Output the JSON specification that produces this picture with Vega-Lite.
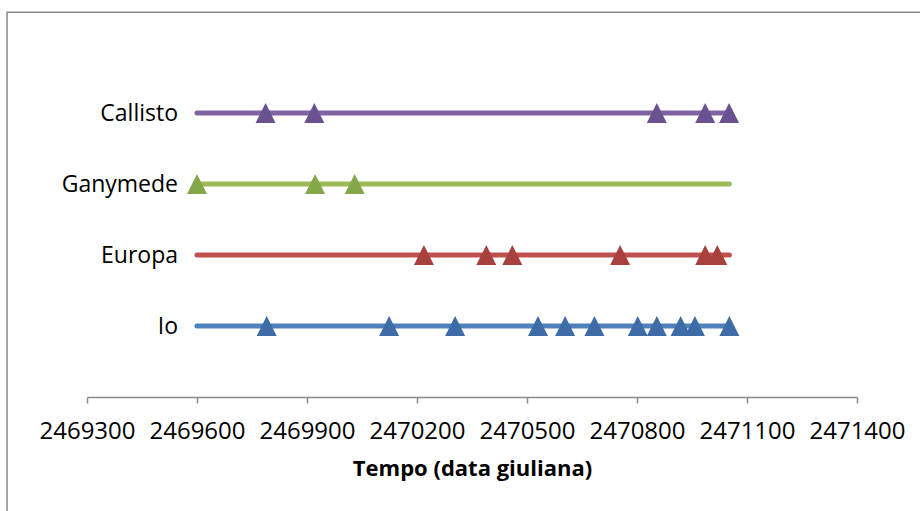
{
  "$schema": "https://vega.github.io/schema/vega-lite/v6.json",
  "width": 770,
  "height": 355,
  "autosize": "none",
  "padding": {"left": 87, "top": 42, "right": 63, "bottom": 114},
  "background": "white",
  "config": {
    "view": {"stroke": null},
    "font": "Open Sans",
    "axisX": {
      "grid": false, "tickSize": 6, "tickWidth": 1.5, "domainWidth": 1.5,
      "domainColor": "#8a8a8a", "tickColor": "#8a8a8a",
      "labelFont": "Open Sans", "labelFontSize": 24, "labelColor": "#000000",
      "labelPadding": 16, "labelOverlap": false, "labelFlush": false,
      "titleFont": "Open Sans", "titleFontSize": 22,
      "titleFontWeight": "bold", "titleColor": "#000000", "titlePadding": 15
    }
  },
  "datasets": {
    "series": [
      {"moon": "Io", "order": 1, "start": 2469600, "end": 2471052},
      {"moon": "Europa", "order": 2, "start": 2469600, "end": 2471052},
      {"moon": "Ganymede", "order": 3, "start": 2469600, "end": 2471052},
      {"moon": "Callisto", "order": 4, "start": 2469600, "end": 2471052}
    ],
    "events": [
      {"moon": "Io", "order": 1, "jd": 2469790},
      {"moon": "Io", "order": 1, "jd": 2470124},
      {"moon": "Io", "order": 1, "jd": 2470304},
      {"moon": "Io", "order": 1, "jd": 2470530},
      {"moon": "Io", "order": 1, "jd": 2470604},
      {"moon": "Io", "order": 1, "jd": 2470684},
      {"moon": "Io", "order": 1, "jd": 2470802},
      {"moon": "Io", "order": 1, "jd": 2470854},
      {"moon": "Io", "order": 1, "jd": 2470919},
      {"moon": "Io", "order": 1, "jd": 2470958},
      {"moon": "Io", "order": 1, "jd": 2471052},
      {"moon": "Europa", "order": 2, "jd": 2470219},
      {"moon": "Europa", "order": 2, "jd": 2470389},
      {"moon": "Europa", "order": 2, "jd": 2470460},
      {"moon": "Europa", "order": 2, "jd": 2470754},
      {"moon": "Europa", "order": 2, "jd": 2470986},
      {"moon": "Europa", "order": 2, "jd": 2471019},
      {"moon": "Ganymede", "order": 3, "jd": 2469600},
      {"moon": "Ganymede", "order": 3, "jd": 2469922},
      {"moon": "Ganymede", "order": 3, "jd": 2470030},
      {"moon": "Callisto", "order": 4, "jd": 2469787},
      {"moon": "Callisto", "order": 4, "jd": 2469920},
      {"moon": "Callisto", "order": 4, "jd": 2470854},
      {"moon": "Callisto", "order": 4, "jd": 2470986},
      {"moon": "Callisto", "order": 4, "jd": 2471051}
    ]
  },
  "layer": [
    {
      "data": {"values": [{}]},
      "mark": {"type": "rect", "fill": null, "stroke": "#8a8a8a", "strokeWidth": 1.5, "clip": false},
      "encoding": {
        "x": {"datum": 2469082, "type": "quantitative", "scale": {"domain": [2469300, 2471400], "nice": false, "zero": false},
          "axis": {"title": "Tempo (data giuliana)", "format": "d", "values": [2469300, 2469600, 2469900, 2470200, 2470500, 2470800, 2471100, 2471400]}},
        "x2": {"datum": 2471800},
        "y": {"datum": 5.42, "type": "quantitative", "scale": {"domain": [0, 5], "nice": false, "zero": false}, "axis": null},
        "y2": {"datum": -2}
      }
    },
    {
      "data": {"name": "series"},
      "mark": {"type": "rule", "strokeWidth": 5, "strokeCap": "round"},
      "encoding": {
        "x": {
          "field": "start", "type": "quantitative",
          "scale": {"domain": [2469300, 2471400], "nice": false, "zero": false},
          "axis": {"title": "Tempo (data giuliana)", "format": "d", "values": [2469300, 2469600, 2469900, 2470200, 2470500, 2470800, 2471100, 2471400]}
        },
        "x2": {"field": "end"},
        "y": {"field": "order", "type": "quantitative", "scale": {"domain": [0, 5], "nice": false, "zero": false}, "axis": null},
        "color": {
          "field": "moon", "type": "nominal", "legend": null,
          "scale": {"domain": ["Io", "Europa", "Ganymede", "Callisto"], "range": ["#4F81BD", "#C0504D", "#9BBB59", "#8064A2"]}
        }
      }
    },
    {
      "data": {"name": "series"},
      "mark": {"type": "text", "align": "right", "baseline": "middle", "dx": -19, "dy": 1, "font": "Open Sans", "fontSize": 23, "color": "#000000"},
      "encoding": {
        "x": {"field": "start", "type": "quantitative",
          "axis": {"title": "Tempo (data giuliana)", "format": "d", "values": [2469300, 2469600, 2469900, 2470200, 2470500, 2470800, 2471100, 2471400]}},
        "y": {"field": "order", "type": "quantitative", "axis": null},
        "text": {"field": "moon"}
      }
    },
    {
      "data": {"name": "events"},
      "mark": {"type": "point", "shape": "M0,-1L1,1L-1,1Z", "filled": true, "size": 400, "opacity": 1},
      "encoding": {
        "x": {"field": "jd", "type": "quantitative",
          "axis": {"title": "Tempo (data giuliana)", "format": "d", "values": [2469300, 2469600, 2469900, 2470200, 2470500, 2470800, 2471100, 2471400]}},
        "y": {"field": "order", "type": "quantitative", "axis": null},
        "color": {
          "field": "moon", "type": "nominal", "legend": null,
          "scale": {"domain": ["Io", "Europa", "Ganymede", "Callisto"], "range": ["#3D6CA6", "#A8403D", "#86A64A", "#6A5190"]}
        }
      }
    }
  ],
  "resolve": {"scale": {"color": "independent"}}
}
